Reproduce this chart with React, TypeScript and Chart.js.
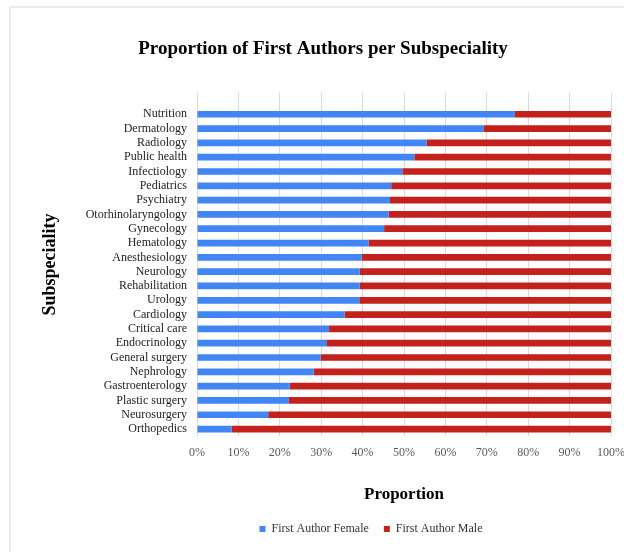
import React, { useEffect, useRef } from "react";
import { Chart, registerables } from "chart.js";

Chart.register(...registerables);

const categories = [
  "Nutrition",
  "Dermatology",
  "Radiology",
  "Public health",
  "Infectiology",
  "Pediatrics",
  "Psychiatry",
  "Otorhinolaryngology",
  "Gynecology",
  "Hematology",
  "Anesthesiology",
  "Neurology",
  "Rehabilitation",
  "Urology",
  "Cardiology",
  "Critical care",
  "Endocrinology",
  "General surgery",
  "Nephrology",
  "Gastroenterology",
  "Plastic surgery",
  "Neurosurgery",
  "Orthopedics",
];

const femaleShare = [
  76.8, 69.3, 55.5, 52.5, 49.6, 46.9, 46.6, 46.3, 45.2, 41.5, 39.8, 39.3, 39.3,
  39.2, 35.7, 31.9, 31.4, 29.9, 28.2, 22.4, 22.2, 17.2, 8.4,
];

const maleShare = [
  23.2, 30.7, 44.5, 47.5, 50.4, 53.1, 53.4, 53.7, 54.8, 58.5, 60.2, 60.7, 60.7,
  60.8, 64.3, 68.1, 68.6, 70.1, 71.8, 77.6, 77.8, 82.8, 91.6,
];

const xTicks = [0, 10, 20, 30, 40, 50, 60, 70, 80, 90, 100];

const seriesNames = ["First Author Female", "First Author Male"];
const chartTitle = "Proportion of First Authors per Subspeciality";
const xTitle = "Proportion";
const yTitle = "Subspeciality";

const SERIF = "'Liberation Serif', 'Times New Roman', Times, serif";

export default function App() {
  const ref = useRef<HTMLCanvasElement | null>(null);

  useEffect(() => {
    if (!ref.current) return;
    // leading empty slot reproduces the blank band above the first bar
    const labels = ["", ...categories];
    const female = [null, ...femaleShare];
    const male = [null, ...maleShare];

    const legendShift = {
      id: "legendShift",
      afterLayout(chart: any) {
        const lg = chart.legend;
        if (lg) {
          lg.left += 48;
          lg.right += 48;
        }
      },
    };

    const chart = new Chart(ref.current, {
      type: "bar",
      data: {
        labels,
        datasets: [
          {
            label: seriesNames[0],
            data: female as any,
            backgroundColor: "#4285F4",
            borderWidth: 0,
            categoryPercentage: 1,
            barPercentage: 0.47,
          },
          {
            label: seriesNames[1],
            data: male as any,
            backgroundColor: "#C4211C",
            borderWidth: 0,
            categoryPercentage: 1,
            barPercentage: 0.47,
          },
        ],
      },
      options: {
        indexAxis: "y",
        responsive: false,
        animation: false,
        layout: { padding: { left: 22, right: 0, top: 0, bottom: 7 } },
        font: { family: SERIF },
        scales: {
          x: {
            type: "linear",
            stacked: true,
            min: 0,
            max: 100,
            afterBuildTicks: (s: any) => {
              s.ticks = xTicks.map((v) => ({ value: v }));
            },
            afterFit: (s: any) => {
              s.paddingRight = 13;
            },
            ticks: {
              autoSkip: false,
              padding: 9,
              color: "#595959",
              font: { family: SERIF, size: 12 },
              callback: (v: any) => v + "%",
            },
            grid: { color: "#d9d9d9", lineWidth: 1, drawTicks: false },
            border: { display: false },
            title: {
              display: true,
              text: xTitle,
              color: "#000",
              font: { family: SERIF, size: 17, weight: "bold" },
              padding: { top: 16, bottom: 3 },
            },
          },
          y: {
            stacked: true,
            afterFit: (s: any) => {
              s.width = 175;
            },
            ticks: {
              autoSkip: false,
              padding: 2,
              color: "#222",
              font: { family: SERIF, size: 12 },
            },
            grid: { display: false },
            border: { display: false },
            title: {
              display: true,
              text: yTitle,
              color: "#000",
              font: { family: SERIF, size: 18, weight: "bold" },
              padding: { top: 18, bottom: 0 },
            },
          },
        },
        plugins: {
          title: {
            display: true,
            text: chartTitle,
            color: "#000",
            font: { family: SERIF, size: 19, weight: "bold" },
            padding: { top: 38, bottom: 32 },
          },
          legend: {
            position: "bottom",
            labels: {
              boxWidth: 6,
              boxHeight: 6,
              padding: 15,
              color: "#333",
              font: { family: SERIF, size: 12 },
            },
          },
          tooltip: { enabled: false },
        },
      },
      plugins: [legendShift],
    } as any);

    return () => chart.destroy();
  }, []);

  return (
    <div
      style={{
        position: "fixed",
        left: 0,
        top: 0,
        width: 624,
        height: 552,
        background: "#fff",
        overflow: "hidden",
      }}
    >
      <div
        style={{
          position: "absolute",
          left: 9,
          top: 6,
          width: 640,
          height: 560,
          borderTop: "2px solid #ececec",
          borderLeft: "2px solid #ececec",
        }}
      />
      <canvas
        ref={ref}
        width={624}
        height={552}
        style={{ position: "absolute", left: 0, top: 0 }}
      />
    </div>
  );
}
